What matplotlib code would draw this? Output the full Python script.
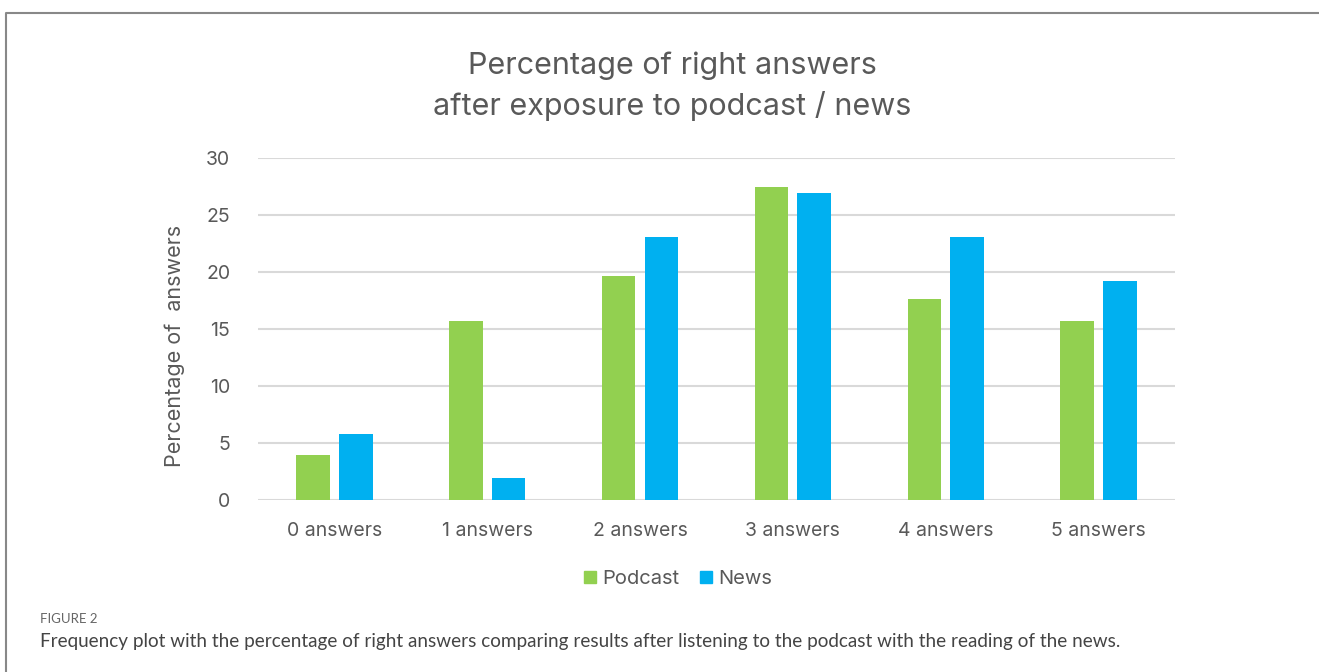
import numpy as np
import matplotlib.pyplot as plt
from matplotlib.patches import Patch

# Percentage of right answers per score, podcast (n=51) vs news (n=52)
categories = ['0 answers', '1 answers', '2 answers', '3 answers', '4 answers', '5 answers']
podcast = [3.92, 15.69, 19.61, 27.45, 17.65, 15.69]
news = [5.77, 1.92, 23.08, 26.92, 23.08, 19.23]
yticks = [0, 5, 10, 15, 20, 25, 30]

GREEN = '#92d050'
BLUE = '#00b0f0'
TXT = '#595959'

plt.rcParams['font.family'] = ['Inter', 'DejaVu Sans']

fig = plt.figure(figsize=(13.19, 6.72), dpi=100)
ax = fig.add_axes([0.1956, 0.2560, 0.6952, 0.5089])

x = np.arange(len(categories))
w = 0.22
ax.bar(x - 0.14, podcast, w, color=GREEN, zorder=3)
ax.bar(x + 0.14, news, w, color=BLUE, zorder=3)

ax.set_xlim(-0.5, len(categories) - 0.5)
ax.set_ylim(0, 30)
ax.set_yticks(yticks)
ax.set_xticks(x)
ax.set_xticklabels(categories)
ax.grid(axis='y', color='#d9d9d9', linewidth=1.5, zorder=0)
for s in ax.spines.values():
    s.set_visible(False)
ax.tick_params(length=0, labelsize=14, labelcolor=TXT)
ax.tick_params(axis='x', pad=16)
ax.tick_params(axis='y', pad=20)
ax.set_ylabel('Percentage of  answers', fontsize=15.5, color=TXT)
ax.yaxis.set_label_coords(-0.080, 0.45)

fig.text(0.5095, 1 - 86.5 / 672, 'Percentage of right answers\nafter exposure to podcast / news',
         ha='center', va='center', fontsize=22, color=TXT, linespacing=1.47)

handles = [Patch(color=GREEN, label='Podcast'), Patch(color=BLUE, label='News')]
fig.legend(handles=handles, loc='center', bbox_to_anchor=(678 / 1319, 1 - 579 / 672),
           ncol=2, frameon=False, fontsize=14.5, labelcolor=TXT,
           handlelength=0.6, handleheight=0.6, handletextpad=0.3, columnspacing=1.0)

# caption under the chart
fig.text(40 / 1319, 1 - 619 / 672, 'FIGURE 2', fontsize=9.5, color='#666666',
         ha='left', va='center', family=['Lato', 'DejaVu Sans'])
fig.text(40 / 1319, 1 - 641 / 672,
         'Frequency plot with the percentage of right answers comparing results after '
         'listening to the podcast with the reading of the news.',
         fontsize=13.6, color='#444444', ha='left', va='center', family=['Lato', 'DejaVu Sans'])

# panel frame (open at the bottom and right)
fig.add_artist(plt.Line2D([6 / 1319, 6 / 1319, 1.0],
                          [0, 1 - 13 / 672, 1 - 13 / 672],
                          transform=fig.transFigure, color='#888888', linewidth=1.5))

fig.savefig('out.png', dpi=100)
